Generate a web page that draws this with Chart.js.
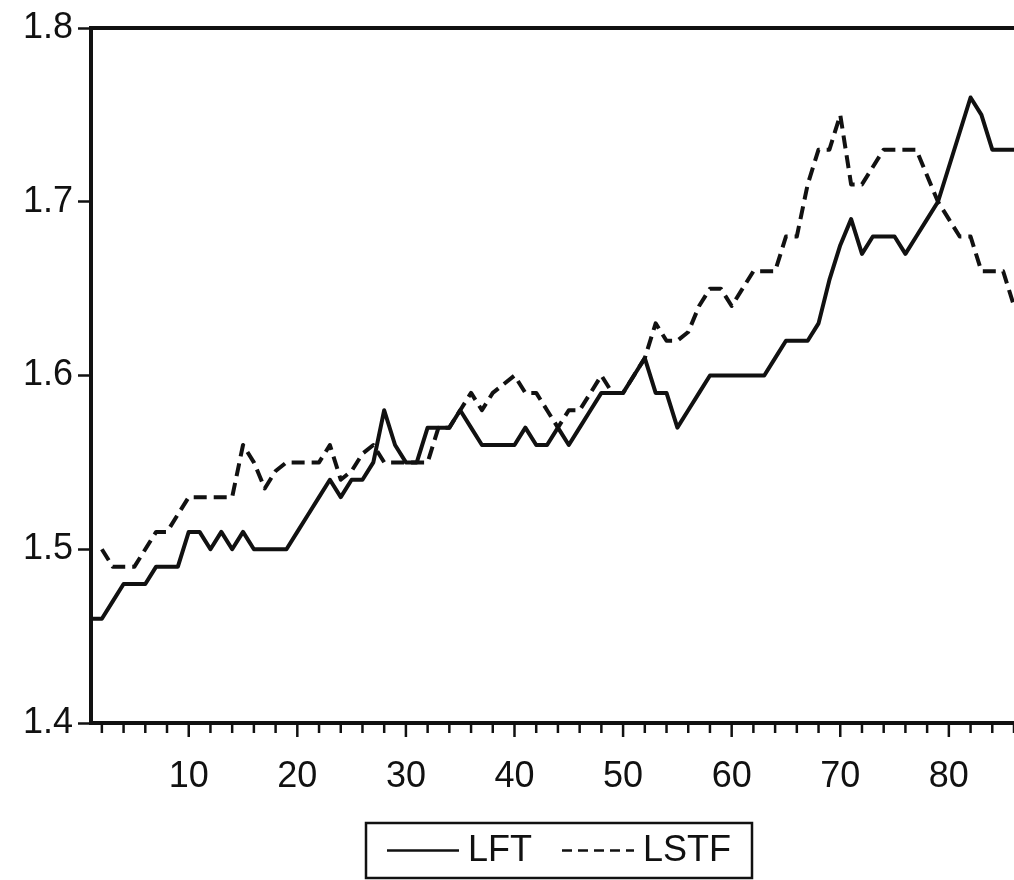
<!DOCTYPE html>
<html>
<head>
<meta charset="utf-8">
<script src="https://cdn.jsdelivr.net/npm/chart.js@4.4.1/dist/chart.umd.min.js"></script>
<style>
  html, body { margin: 0; padding: 0; background: #fff; overflow: hidden; }
  #wrap { width: 1014px; height: 880px; }
</style>
</head>
<body>
<div id="wrap"><canvas id="chart" width="1014" height="880"></canvas></div>
<script>
// Observation index (1..86)
const observations = Array.from({ length: 86 }, (_, i) => i + 1);

// LFT series
const lft = [
  1.46, 1.46, 1.47, 1.48, 1.48, 1.48, 1.49, 1.49, 1.49, 1.51,
  1.51, 1.50, 1.51, 1.50, 1.51, 1.50, 1.50, 1.50, 1.50, 1.51,
  1.52, 1.53, 1.54, 1.53, 1.54, 1.54, 1.55, 1.58, 1.56, 1.55,
  1.55, 1.57, 1.57, 1.57, 1.58, 1.57, 1.56, 1.56, 1.56, 1.56,
  1.57, 1.56, 1.56, 1.57, 1.56, 1.57, 1.58, 1.59, 1.59, 1.59,
  1.60, 1.61, 1.59, 1.59, 1.57, 1.58, 1.59, 1.60, 1.60, 1.60,
  1.60, 1.60, 1.60, 1.61, 1.62, 1.62, 1.62, 1.63, 1.655, 1.675,
  1.69, 1.67, 1.68, 1.68, 1.68, 1.67, 1.68, 1.69, 1.70, 1.72,
  1.74, 1.76, 1.75, 1.73, 1.73, 1.73
];

// LSTF series (no value for the first observation)
const lstf = [
  null, 1.50, 1.49, 1.49, 1.49, 1.50, 1.51, 1.51, 1.52, 1.53,
  1.53, 1.53, 1.53, 1.53, 1.56, 1.55, 1.535, 1.545, 1.55, 1.55,
  1.55, 1.55, 1.56, 1.54, 1.545, 1.555, 1.56, 1.55, 1.55, 1.55,
  1.55, 1.55, 1.57, 1.57, 1.58, 1.59, 1.58, 1.59, 1.595, 1.60,
  1.59, 1.59, 1.58, 1.57, 1.58, 1.58, 1.59, 1.60, 1.59, 1.59,
  1.60, 1.61, 1.63, 1.62, 1.62, 1.625, 1.64, 1.65, 1.65, 1.64,
  1.65, 1.66, 1.66, 1.66, 1.68, 1.68, 1.71, 1.73, 1.73, 1.75,
  1.71, 1.71, 1.72, 1.73, 1.73, 1.73, 1.73, 1.715, 1.70, 1.69,
  1.68, 1.68, 1.66, 1.66, 1.66, 1.64
];

// Axis tick labels
const xTickLabels = [10, 20, 30, 40, 50, 60, 70, 80];
const yTickLabels = [1.4, 1.5, 1.6, 1.7, 1.8];

const INK = '#111111';
const FONT_FAMILY = '"Liberation Sans", Arial, sans-serif';
const FONT_SIZE = 36;

// Frame around the plot (top, left, bottom) plus the small/long x-axis tick marks
const framePlugin = {
  id: 'frame',
  afterDatasetsDraw(chart) {
    const { ctx, chartArea: a, scales } = chart;
    ctx.save();
    ctx.strokeStyle = INK;
    ctx.lineWidth = 4;
    ctx.lineCap = 'square';
    ctx.beginPath();
    ctx.moveTo(a.right + 3, a.top);
    ctx.lineTo(a.left, a.top);
    ctx.lineTo(a.left, a.bottom);
    ctx.lineTo(a.right + 3, a.bottom);
    ctx.stroke();

    const xs = scales.x;
    ctx.lineWidth = 2.5;
    ctx.lineCap = 'butt';
    for (let v = 2; v <= xs.max; v += 2) {
      const px = xs.getPixelForValue(v);
      const len = v % 10 === 0 ? 14 : 10;
      ctx.beginPath();
      ctx.moveTo(px, a.bottom);
      ctx.lineTo(px, a.bottom + len);
      ctx.stroke();
    }
    ctx.restore();
  }
};

// Boxed legend below the axis
const boxLegendPlugin = {
  id: 'boxLegend',
  afterDraw(chart) {
    const { ctx } = chart;
    const sets = chart.data.datasets;
    ctx.save();
    ctx.font = FONT_SIZE + 'px ' + FONT_FAMILY;
    ctx.fillStyle = INK;
    ctx.strokeStyle = INK;
    ctx.textBaseline = 'middle';

    const sample = 72, gapAfterSample = 9, gapBetween = 30, pad = 16;
    const widths = sets.map(d => ctx.measureText(d.label).width);
    const content = sets.length * (sample + gapAfterSample) + widths.reduce((s, w) => s + w, 0) + gapBetween * (sets.length - 1);
    const total = 386;
    const centerX = 559;
    const top = 823, height = 55;
    const left = Math.round(centerX - total / 2);
    const midY = top + height / 2;

    ctx.lineWidth = 2.5;
    ctx.strokeRect(left, top, total, height);

    let x = left + Math.max(pad, (total - content) / 2);
    sets.forEach((d, i) => {
      ctx.beginPath();
      ctx.lineWidth = 2.5;
      ctx.setLineDash(d.borderDash && d.borderDash.length ? [10, 6] : []);
      ctx.moveTo(x, midY);
      ctx.lineTo(x + sample, midY);
      ctx.stroke();
      ctx.setLineDash([]);
      x += sample + gapAfterSample;
      ctx.fillText(d.label, x, midY + 1);
      x += widths[i] + gapBetween;
    });
    ctx.restore();
  }
};

const toPoints = (ys) => observations.map((x, i) => ({ x, y: ys[i] }));

new Chart(document.getElementById('chart'), {
  type: 'line',
  data: {
    datasets: [
      {
        label: 'LFT',
        data: toPoints(lft),
        borderColor: INK,
        borderWidth: 4,
        borderDash: [],
        pointRadius: 0,
        tension: 0,
        fill: false
      },
      {
        label: 'LSTF',
        data: toPoints(lstf),
        borderColor: INK,
        borderWidth: 4,
        borderDash: [13, 7],
        pointRadius: 0,
        tension: 0,
        fill: false,
        spanGaps: false
      }
    ]
  },
  options: {
    responsive: false,
    animation: false,
    devicePixelRatio: 1,
    layout: { padding: { top: 28, left: 0, right: 0, bottom: 0 } },
    plugins: {
      legend: { display: false },
      tooltip: { enabled: false }
    },
    elements: { line: { borderJoinStyle: 'round', borderCapStyle: 'butt' } },
    scales: {
      x: {
        type: 'linear',
        min: 1,
        max: 86,
        afterBuildTicks(scale) { scale.ticks = xTickLabels.map(v => ({ value: v })); },
        afterFit(scale) { scale.height = 157; },
        ticks: {
          color: INK,
          font: { family: FONT_FAMILY, size: FONT_SIZE },
          padding: 32,
          maxRotation: 0,
          autoSkip: false,
          callback: (v) => String(v)
        },
        grid: { display: false, drawTicks: false },
        border: { display: false }
      },
      y: {
        min: 1.4,
        max: 1.8,
        afterBuildTicks(scale) { scale.ticks = yTickLabels.map(v => ({ value: v })); },
        afterFit(scale) { scale.width = 91; },
        ticks: {
          color: INK,
          font: { family: FONT_FAMILY, size: FONT_SIZE },
          padding: 5,
          callback: (v) => Number(v).toFixed(1)
        },
        grid: {
          drawOnChartArea: false,
          drawTicks: true,
          tickLength: 13,
          tickWidth: 2.5,
          tickColor: INK
        },
        border: { display: false }
      }
    }
  },
  plugins: [framePlugin, boxLegendPlugin]
});
</script>
</body>
</html>
